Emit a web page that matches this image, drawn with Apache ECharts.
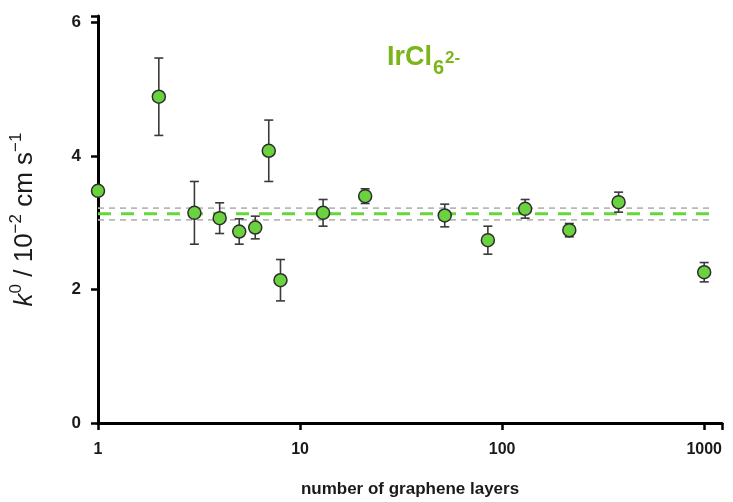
<!DOCTYPE html>
<html>
<head>
<meta charset="utf-8">
<script src="https://cdn.jsdelivr.net/npm/echarts@6/dist/echarts.min.js"></script>
<style>
  html, body { margin: 0; padding: 0; background: #fff; }
  #chart { width: 733px; height: 502px; }
</style>
</head>
<body>
<div id="chart"></div>
<script>
// Rate constant k0 versus graphene layer count (IrCl6 2- redox probe)
const layers = [1, 2, 3, 4, 5, 6, 7, 8, 13, 21, 52, 85, 130, 215, 377, 1000];
const k0     = [3.48, 4.89, 3.15, 3.07, 2.87, 2.93, 4.08, 2.14, 3.15, 3.40, 3.11, 2.74, 3.21, 2.89, 3.31, 2.26];
const k0Err  = [0.05, 0.58, 0.47, 0.23, 0.19, 0.17, 0.46, 0.31, 0.20, 0.11, 0.17, 0.21, 0.14, 0.10, 0.15, 0.145];

// Mean value and its uncertainty band
const meanK0 = 3.135;
const bandLow = 3.045;
const bandHigh = 3.22;
const meanSpan = [1, 1110];
const bandSpan = [1, 1060];

const yTicks = [0, 2, 4, 6];
const xTicks = [1, 10, 100, 1000];

const FONT = '"Liberation Sans", Arial, sans-serif';
const GREEN_TEXT = '#7cb51a';

const points = layers.map((x, i) => [x, k0[i]]);
const bars = layers.map((x, i) => [x, k0[i] - k0Err[i], k0[i] + k0Err[i]]);

function hLine(y, span) {
  return span.map(x => [x, y]);
}

const chart = echarts.init(document.getElementById('chart'), null, { renderer: 'canvas' });

chart.setOption({
  animation: false,
  backgroundColor: '#fff',
  textStyle: { fontFamily: FONT },
  graphic: [
    {
      type: 'group',
      left: 387,
      top: 44,
      children: [
        { type: 'text', x: 0, y: 0, style: { text: 'IrCl', font: 'bold 27px ' + FONT, fill: GREEN_TEXT } },
        { type: 'text', x: 46, y: 14, style: { text: '6', font: 'bold 20px ' + FONT, fill: GREEN_TEXT } },
        { type: 'text', x: 58, y: 6, style: { text: '2-', font: 'bold 17px ' + FONT, fill: GREEN_TEXT } }
      ]
    }
  ],
  grid: { left: 98, right: 11, top: 16, bottom: 79, containLabel: false, outerBoundsMode: 'none' },
  xAxis: {
    type: 'log',
    logBase: 10,
    min: 1,
    max: 1225,
    name: 'number of graphene layers',
    nameLocation: 'middle',
    nameGap: 58,
    nameTextStyle: { fontFamily: FONT, fontSize: 17, fontWeight: 'bold', color: '#1a1a1a' },
    axisLine: { show: true, onZero: false, lineStyle: { color: '#000', width: 3 } },
    axisTick: { show: true, inside: false, length: 7, lineStyle: { color: '#000', width: 2.5 } },
    axisLabel: {
      fontFamily: FONT, fontSize: 16, fontWeight: 'bold', color: '#1a1a1a', margin: 19,
      formatter: v => (xTicks.indexOf(Math.round(v)) >= 0 ? String(Math.round(v)) : '')
    },
    splitLine: { show: false },
    minorTick: { show: false }
  },
  yAxis: {
    type: 'value',
    min: 0,
    max: 6.1,
    interval: 2,
    name: '{k|k}{s|0}{t| / 10}{s|−2}{t| cm s}{s|−1}',
    nameLocation: 'middle',
    nameRotate: 90,
    nameGap: 60,
    nameTextStyle: {
      rich: {
        k: { fontFamily: FONT, fontSize: 26, fontStyle: 'italic', color: '#1a1a1a', lineHeight: 30, verticalAlign: 'bottom' },
        t: { fontFamily: FONT, fontSize: 26, color: '#1a1a1a', lineHeight: 30, verticalAlign: 'bottom' },
        s: { fontFamily: FONT, fontSize: 17, color: '#1a1a1a', lineHeight: 30, verticalAlign: 'top' }
      }
    },
    axisLine: { show: true, lineStyle: { color: '#000', width: 3 } },
    axisTick: { show: true, inside: false, length: 7, lineStyle: { color: '#000', width: 2.5 } },
    axisLabel: {
      fontFamily: FONT, fontSize: 17, fontWeight: 'bold', color: '#1a1a1a', margin: 17,
      formatter: v => (yTicks.indexOf(v) >= 0 ? String(v) : '')
    },
    splitLine: { show: false }
  },
  series: [
    {
      name: 'band-high',
      type: 'line',
      data: hLine(bandHigh, bandSpan),
      symbol: 'none',
      lineStyle: { color: '#b8b8b8', width: 1.6, type: [6, 5] },
      z: 1
    },
    {
      name: 'band-low',
      type: 'line',
      data: hLine(bandLow, bandSpan),
      symbol: 'none',
      lineStyle: { color: '#b8b8b8', width: 1.6, type: [6, 5] },
      z: 1
    },
    {
      name: 'mean',
      type: 'line',
      data: hLine(meanK0, meanSpan),
      symbol: 'none',
      lineStyle: { color: '#66d63a', width: 3, type: [13, 10] },
      z: 2
    },
    {
      name: 'error',
      type: 'custom',
      data: bars,
      z: 3,
      renderItem: function (params, api) {
        const x = api.value(0);
        const lo = api.coord([x, api.value(1)]);
        const hi = api.coord([x, api.value(2)]);
        const cap = 4.5;
        const style = { stroke: '#3a3a3a', lineWidth: 1.6 };
        return {
          type: 'group',
          children: [
            { type: 'line', shape: { x1: lo[0], y1: lo[1], x2: hi[0], y2: hi[1] }, style: style },
            { type: 'line', shape: { x1: lo[0] - cap, y1: lo[1], x2: lo[0] + cap, y2: lo[1] }, style: style },
            { type: 'line', shape: { x1: hi[0] - cap, y1: hi[1], x2: hi[0] + cap, y2: hi[1] }, style: style }
          ]
        };
      }
    },
    {
      name: 'k0',
      type: 'scatter',
      data: points,
      symbol: 'circle',
      symbolSize: 13,
      itemStyle: { color: '#6ad23e', borderColor: '#2e2e2e', borderWidth: 1.5, opacity: 1 },
      z: 4
    }
  ]
});
</script>
</body>
</html>
